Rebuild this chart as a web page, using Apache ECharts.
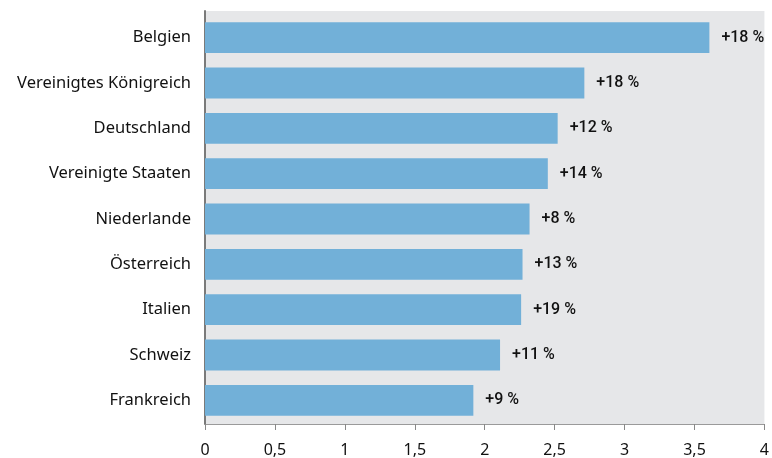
<!DOCTYPE html>
<html><head><meta charset="utf-8">
<script src="https://cdn.jsdelivr.net/npm/echarts@6/dist/echarts.min.js"></script>
<style>html,body{margin:0;padding:0;background:#fff}#c{width:772px;height:458px}</style>
</head><body><div id="c"></div>
<script>
const categories = ['Belgien','Vereinigtes Königreich','Deutschland','Vereinigte Staaten','Niederlande','Österreich','Italien','Schweiz','Frankreich'];
const values = [3.59, 2.70, 2.51, 2.44, 2.31, 2.26, 2.25, 2.10, 1.91];
const changes = ['+18 %','+18 %','+12 %','+14 %','+8 %','+13 %','+19 %','+11 %','+9 %'];
const xTicks = [0, 0.5, 1, 1.5, 2, 2.5, 3, 3.5, 4];

const FONT = 'Noto Sans';
const chart = echarts.init(document.getElementById('c'));
chart.setOption({
  animation: false,
  grid: [
    {left: 205, right: 5, top: 15, bottom: 35},
    {left: 205, right: 5, top: 11, bottom: 31, show: true, backgroundColor: '#e6e7e9', borderWidth: 0, z: 0}
  ],
  xAxis: [{
    gridIndex: 0, type: 'value', min: xTicks[0], max: xTicks[xTicks.length - 1], interval: 0.5, show: false
  }, {
    gridIndex: 1, type: 'value', min: xTicks[0], max: xTicks[xTicks.length - 1], interval: 0.5,
    axisLine: {show: true, onZero: false, lineStyle: {color: '#9a9a9a', width: 1}},
    axisTick: {show: true, length: 6, lineStyle: {color: '#888'}},
    splitLine: {show: false},
    axisLabel: {color: '#111', fontSize: 16, fontFamily: FONT, margin: 18,
      formatter: v => String(v).replace('.', ',')}
  }],
  yAxis: [{
    gridIndex: 0, type: 'category', data: categories.slice().reverse(),
    axisLine: {show: false},
    axisTick: {show: false},
    axisLabel: {color: '#111', fontSize: 16.5, fontFamily: FONT, margin: 14}
  }, {
    gridIndex: 1, type: 'value', min: 0, max: 1,
    axisLine: {show: true, onZero: false, lineStyle: {color: '#7a7a7a', width: 2}},
    axisTick: {show: false}, axisLabel: {show: false}, splitLine: {show: false}
  }],
  series: [{
    type: 'bar', xAxisIndex: 0, yAxisIndex: 0, z: 5,
    data: values.slice().reverse(),
    barCategoryGap: '32%',
    itemStyle: {color: '#72b0d8'},
    label: {show: true, position: 'right', distance: 12, color: '#111', fontSize: 16, fontFamily: 'Roboto', fontWeight: 500,
      formatter: p => changes.slice().reverse()[p.dataIndex]}
  }]
});
</script></body></html>
